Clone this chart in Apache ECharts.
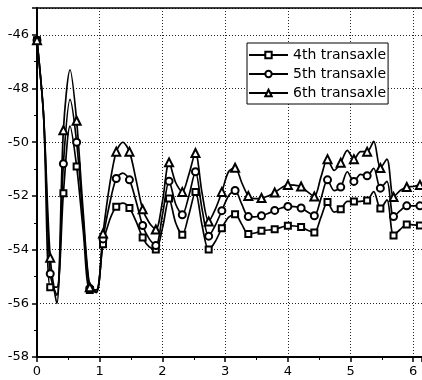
<!DOCTYPE html>
<html>
<head>
<meta charset="utf-8">
<script src="https://cdn.jsdelivr.net/npm/echarts@6/dist/echarts.min.js"></script>
<style>
html, body { margin: 0; padding: 0; background: #fff; }
#chart { width: 422px; height: 380px; }
</style>
</head>
<body>
<div id="chart"></div>
<script>
// sample positions, a marker is drawn on every other sample
var xs = [0, 0.105, 0.211, 0.316, 0.421, 0.527, 0.632, 0.737, 0.842, 0.948,
  1.053, 1.158, 1.264, 1.369, 1.474, 1.580, 1.685, 1.790, 1.895, 2.001,
  2.106, 2.211, 2.317, 2.422, 2.527, 2.633, 2.738, 2.843, 2.948, 3.054,
  3.159, 3.264, 3.370, 3.475, 3.580, 3.686, 3.791, 3.896, 4.001, 4.107,
  4.212, 4.317, 4.423, 4.528, 4.633, 4.739, 4.844, 4.949, 5.054, 5.160,
  5.265, 5.370, 5.476, 5.581, 5.686, 5.792, 5.897, 6.002, 6.107]

var fourth = [-46.2, -49.0, -55.4, -55.4, -51.9, -49.4, -50.9, -53.3, -55.5, -55.5,
  -53.8, -52.9, -52.4, -52.27, -52.45, -52.95, -53.55, -53.9, -54.0, -53.2,
  -52.1, -53.0, -53.45, -52.7, -51.85, -53.1, -54.0, -53.7, -53.2, -52.8,
  -52.68, -53.05, -53.42, -53.38, -53.3, -53.27, -53.24, -53.17, -53.11, -53.12,
  -53.16, -53.28, -53.36, -52.8, -52.23, -52.6, -52.5, -52.2, -52.21, -52.2,
  -52.17, -51.84, -52.47, -52.15, -53.47, -53.25, -53.06, -53.08, -53.1]

var fifth = [-46.2, -49.0, -54.9, -55.7, -50.8, -48.4, -50.0, -52.9, -55.45, -55.55,
  -53.6, -52.3, -51.35, -51.15, -51.4, -52.2, -53.1, -53.6, -53.85, -52.7,
  -51.45, -52.3, -52.7, -52.0, -51.1, -52.5, -53.5, -53.1, -52.55, -52.0,
  -51.8, -52.3, -52.77, -52.78, -52.74, -52.65, -52.54, -52.45, -52.39, -52.4,
  -52.45, -52.6, -52.74, -52.1, -51.4, -51.8, -51.67, -51.1, -51.46, -51.2,
  -51.25, -50.97, -51.71, -51.46, -52.77, -52.55, -52.37, -52.37, -52.37]

var sixth = [-46.2, -49.0, -54.3, -56.0, -49.55, -47.3, -49.2, -52.6, -55.4, -55.6,
  -53.4, -51.6, -50.35, -50.0, -50.35, -51.4, -52.5, -53.0, -53.25, -52.2,
  -50.75, -51.5, -51.85, -51.2, -50.4, -51.9, -52.95, -52.5, -51.85, -51.1,
  -50.95, -51.5, -52.0, -52.1, -52.08, -52.0, -51.87, -51.7, -51.59, -51.6,
  -51.65, -51.85, -52.02, -51.3, -50.63, -51.05, -50.76, -50.3, -50.63, -50.35,
  -50.35, -49.97, -50.96, -50.63, -52.04, -51.8, -51.67, -51.65, -51.59]

var names = ['4th transaxle', '5th transaxle', '6th transaxle']
var symbols = ['emptyRect', 'emptyCircle', 'emptyTriangle']
var sizes = [6, 7, 8]

var font = 'DejaVu Sans'

function buildData (vals) {
  var out = []
  for (var i = 0; i < xs.length; i++) {
    if (i % 2 === 0) {
      out.push([xs[i], vals[i]])
    } else {
      out.push({ value: [xs[i], vals[i]], symbol: 'none' })
    }
  }
  return out
}

var valuesList = [fourth, fifth, sixth]
var series = []
for (var s = 0; s < 3; s++) {
  series.push({
    name: names[s],
    type: 'line',
    data: buildData(valuesList[s]),
    smooth: 0.3,
    symbol: symbols[s],
    symbolSize: sizes[s],
    showSymbol: true,
    lineStyle: { color: '#000', width: 1.7 },
    itemStyle: { color: '#000', borderColor: '#000', borderWidth: 1 },
    emphasis: { disabled: true },
    animation: false
  })
}

var chart = echarts.init(document.getElementById('chart'), null, { renderer: 'canvas' })
var option = {
  animation: false,
  backgroundColor: '#fff',
  grid: { left: 37, right: 0, top: 8, bottom: 23 },
  legend: {
    data: names,
    orient: 'vertical',
    left: 247,
    top: 43,
    itemWidth: 39,
    itemHeight: 8,
    itemGap: 5,
    padding: [5, 2, 4, 1],
    borderColor: '#000',
    borderWidth: 1,
    backgroundColor: '#fff',
    textStyle: { fontFamily: font, fontSize: 14, color: '#000' }
  },
  xAxis: [{
    type: 'value',
    min: 0,
    max: 6.14,
    interval: 1,
    axisLine: { lineStyle: { color: '#000', width: 2 } },
    axisTick: { show: true, length: 5, lineStyle: { color: '#000', width: 1.5 } },
    minorTick: { show: true, splitNumber: 2, length: 3, lineStyle: { color: '#000', width: 1 } },
    axisLabel: { showMaxLabel: false, color: '#000', fontFamily: font, fontSize: 13, margin: 8 },
    splitLine: { show: true, lineStyle: { color: '#222', width: 1, type: [1, 2] } }
  }, {
    type: 'value',
    position: 'top',
    min: 0,
    max: 6.14,
    axisLine: { show: true, lineStyle: { color: '#000', width: 1.5 } },
    axisTick: { show: false },
    axisLabel: { show: false },
    splitLine: { show: false }
  }],
  yAxis: {
    type: 'value',
    min: -58,
    max: -45,
    interval: 2,
    axisLine: { show: true, lineStyle: { color: '#000', width: 2 } },
    axisTick: { show: true, length: 5, lineStyle: { color: '#000', width: 1.5 } },
    minorTick: { show: true, splitNumber: 2, length: 3, lineStyle: { color: '#000', width: 1 } },
    axisLabel: { showMaxLabel: false, color: '#000', fontFamily: font, fontSize: 13, margin: 8 },
    splitLine: { show: true, lineStyle: { color: '#222', width: 1, type: [1, 2] } }
  },
  series: series
}
chart.setOption(option)
</script>
</body>
</html>
